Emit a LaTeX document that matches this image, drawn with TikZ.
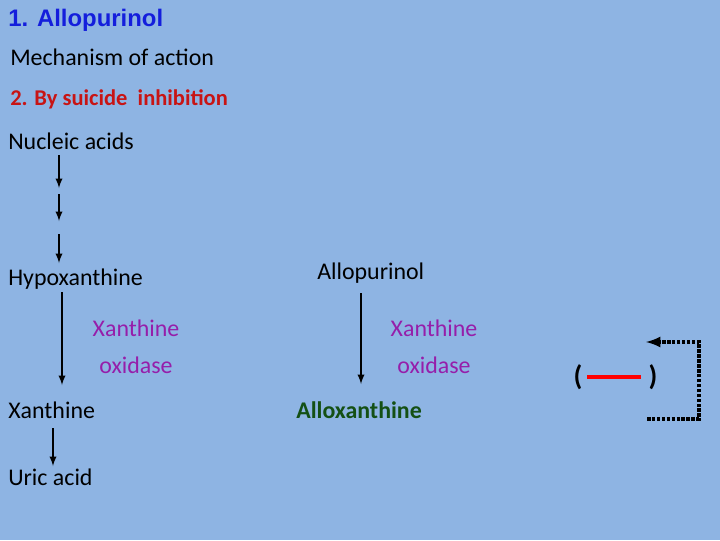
\documentclass[tikz,border=0pt]{standalone}
\usepackage{fontspec}
\setmainfont{Carlito}
\newfontfamily\arialfont{Liberation Sans}
\usetikzlibrary{positioning}
\definecolor{bgblue}{RGB}{142,180,227}
\definecolor{titleblue}{RGB}{20,30,220}
\definecolor{subred}{RGB}{200,20,20}
\definecolor{enzpurple}{RGB}{150,30,170}
\definecolor{prodgreen}{RGB}{20,80,20}
\begin{document}
\begin{tikzpicture}[
  x=0.025cm, y=-0.025cm,
  > = latex,
  txt/.style = {anchor=west, inner sep=0pt, font=\fontsize{17}{20}\selectfont},
  enz/.style = {align=center, inner sep=0pt, text=enzpurple, font=\fontsize{17}{26}\selectfont},
  pathstep/.style = {->, line width=1.3pt}
  ]
  \fill[bgblue] (0,0) rectangle (720,540);
  \useasboundingbox (0,0) rectangle (720,540);

  \node[txt, text=titleblue, font=\arialfont\bfseries\fontsize{17}{20}\selectfont] (title) at (8,20) {1. Allopurinol};
  \node[txt] (mech) at (10,57) {Mechanism of action};
  \node[txt, text=subred, font=\bfseries\fontsize{16}{20}\selectfont] (sub) at (10,99) {2. By suicide\ \ inhibition};
  \node[txt] (nuc) at (8,141) {Nucleic acids};
  \node[txt] (hypo) at (8,279) {Hypoxanthine};
  \node[txt] (xan) at (8,410) {Xanthine};
  \node[txt] (uric) at (8,477) {Uric acid};
  \node[enz] (xo1) at (136,347) {Xanthine\\oxidase};

  \node[txt] (allo) at (317,273) {Allopurinol};
  \node[txt, text=prodgreen, font=\bfseries\fontsize{17}{20}\selectfont] (alox) at (296,410) {Alloxanthine};
  \node[enz] (xo2) at (434,347) {Xanthine\\oxidase};

  % pathway arrows
  \coordinate (n1) at (59,155); \coordinate (n2) at (59,188);
  \coordinate (n3) at (59,194); \coordinate (n4) at (59,221);
  \coordinate (n5) at (59,234); \coordinate (n6) at (59,263);
  \draw[pathstep] (n1) -- (n2);
  \draw[pathstep] (n3) -- (n4);
  \draw[pathstep] (n5) -- (n6);
  \draw[pathstep] (62,292) -- (62,385);
  \draw[pathstep] (53,428) -- (53,466);
  \draw[pathstep] (361,293) -- (361,384);

  % inhibition symbol
  \node[inner sep=0pt, font=\bfseries\fontsize{20}{20}\selectfont] (lp) at (578,377) {(};
  \node[inner sep=0pt, font=\bfseries\fontsize{20}{20}\selectfont] (rp) at (653,377) {)};
  \draw[red, line width=3pt] (587,377) -- (641,377);
  \coordinate (fb1) at (647,419); \coordinate (fb2) at (699,419);
  \coordinate (fb3) at (699,342); \coordinate (fb4) at (646,342);
  \draw[->, densely dotted, line width=2.5pt] (fb1) -- (fb2) -- (fb3) -- (fb4);
\end{tikzpicture}
\end{document}
